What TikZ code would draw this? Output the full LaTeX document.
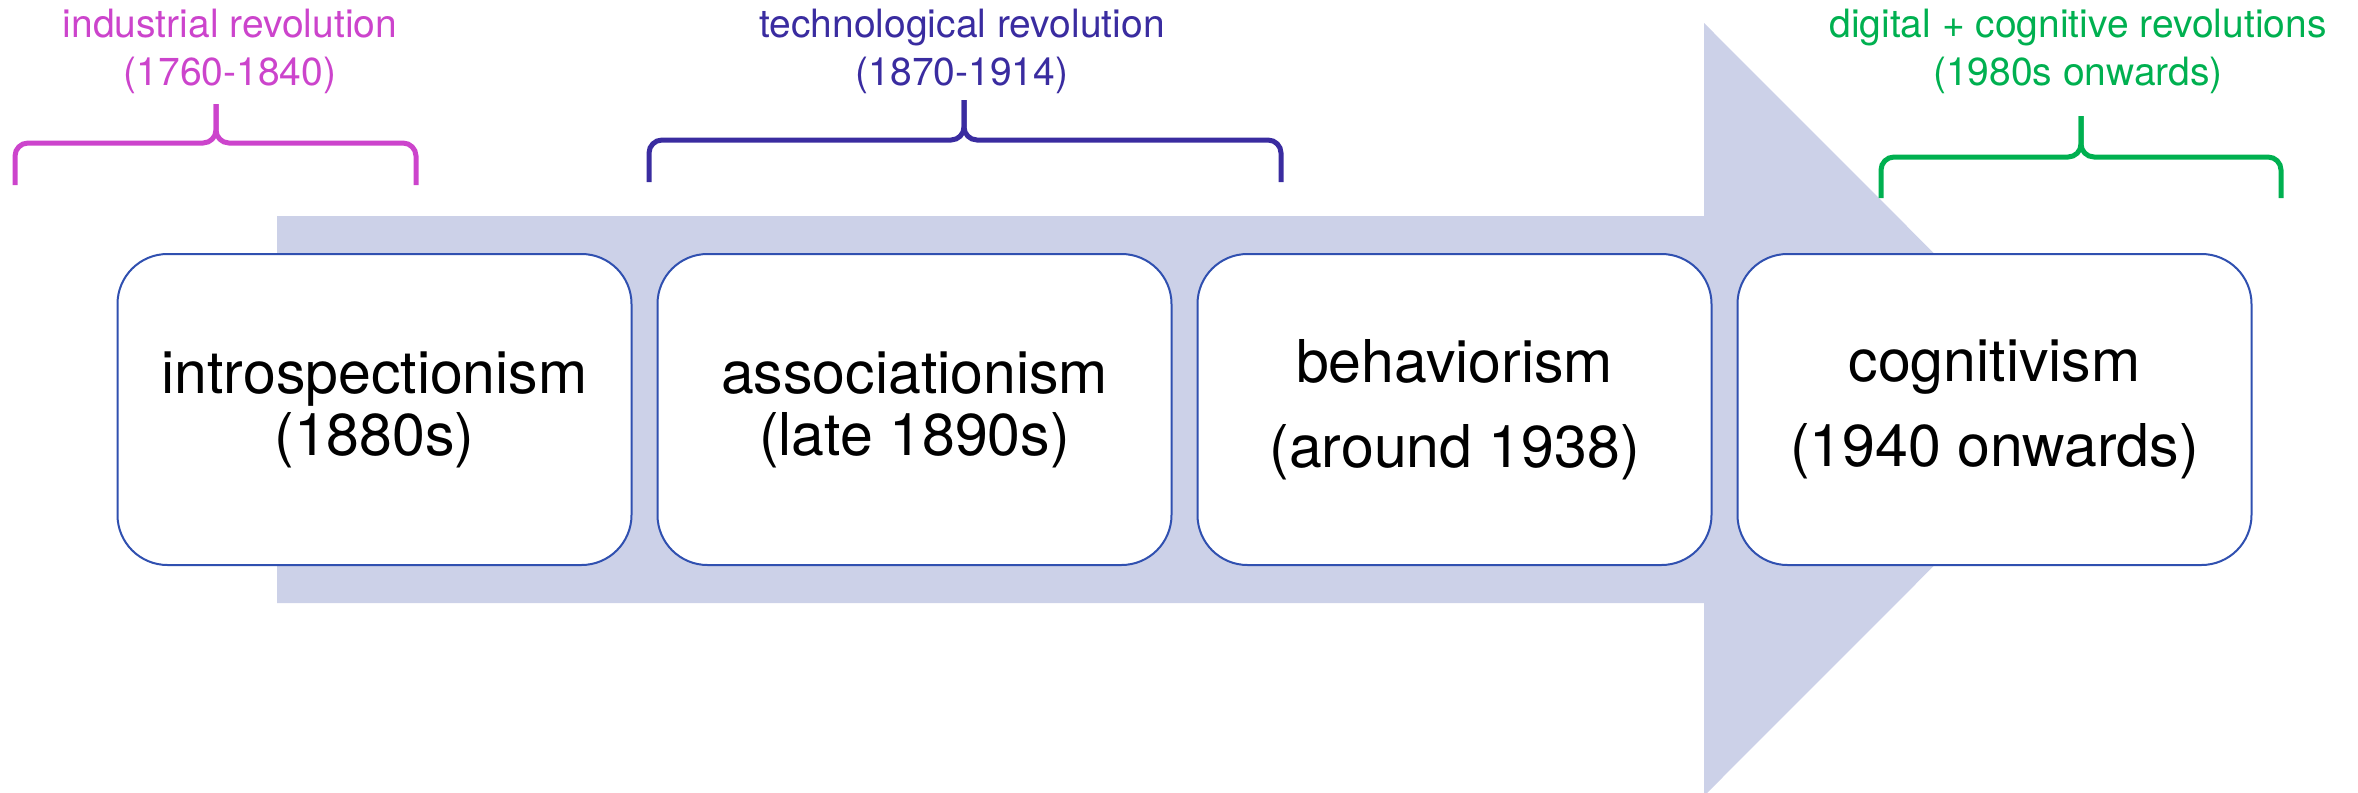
\documentclass[tikz,border=0pt]{standalone}
\usepackage{fontspec}
\setmainfont{TeX Gyre Heros}
\usetikzlibrary{positioning}
\definecolor{indcol}{RGB}{204,68,204}
\definecolor{techcol}{RGB}{58,44,160}
\definecolor{digcol}{RGB}{0,176,80}
\definecolor{arrowfill}{RGB}{204,209,232}
\definecolor{boxblue}{RGB}{48,80,176}
\begin{document}
\begin{tikzpicture}[
    x=0.5pt, y=-0.5pt,
    stage/.style={draw=boxblue, fill=white, line width=1pt, rounded corners=25pt,
      minimum width=257pt, minimum height=155.5pt, inner sep=0pt, outer sep=0pt,
      align=center, font=\fontsize{29.5}{31}\selectfont},
    wide stage/.style={stage, font=\fontsize{29.5}{42.5}\selectfont},
    era/.style={align=center, inner sep=0pt, font=\fontsize{19.5}{24}\selectfont},
    brace line/.style={line width=2.5pt, rounded corners=6.5pt}
  ]
  \useasboundingbox (0,0) rectangle (2358,793);

  % big arrow behind the stages
  \fill[arrowfill] (277,216) -- (1704,216) -- (1704,23) -- (2090,409.5)
    -- (1704,796) -- (1704,603) -- (277,603) -- cycle;

  % stages
  \node[stage] (intro) at (374.5,409.5) {introspectionism\\(1880s)};
  \node[stage, right=13pt of intro] (assoc) {associationism\\(late 1890s)};
  \node[wide stage, right=13pt of assoc] (behav) {behaviorism\\(around 1938)};
  \node[wide stage, right=13pt of behav] (cogni) {cognitivism\\(1940 onwards)};

  % revolutions
  \node[era, text=indcol] (indrev) at (230,51) {industrial revolution\\(1760-1840)};
  \node[era, text=techcol] (techrev) at (962,51) {technological revolution\\(1870-1914)};
  \node[era, text=digcol] (digrev) at (2078,51) {digital + cognitive revolutions\\(1980s onwards)};

  % braces: left / middle / right / bar / foot / tip / colour
  \foreach \l/\m/\r/\h/\b/\t/\c in {15/216/416/143/185/104/indcol,
      649/964/1281/140/182/100/techcol, 1881/2081/2281/157/198/116/digcol} {
    \draw[brace line, color=\c] (\l,\b) -- (\l,\h) -- (\m,\h) -- (\m,\t);
    \draw[brace line, color=\c] (\r,\b) -- (\r,\h) -- (\m,\h) -- (\m,\t);
  }
\end{tikzpicture}
\end{document}
